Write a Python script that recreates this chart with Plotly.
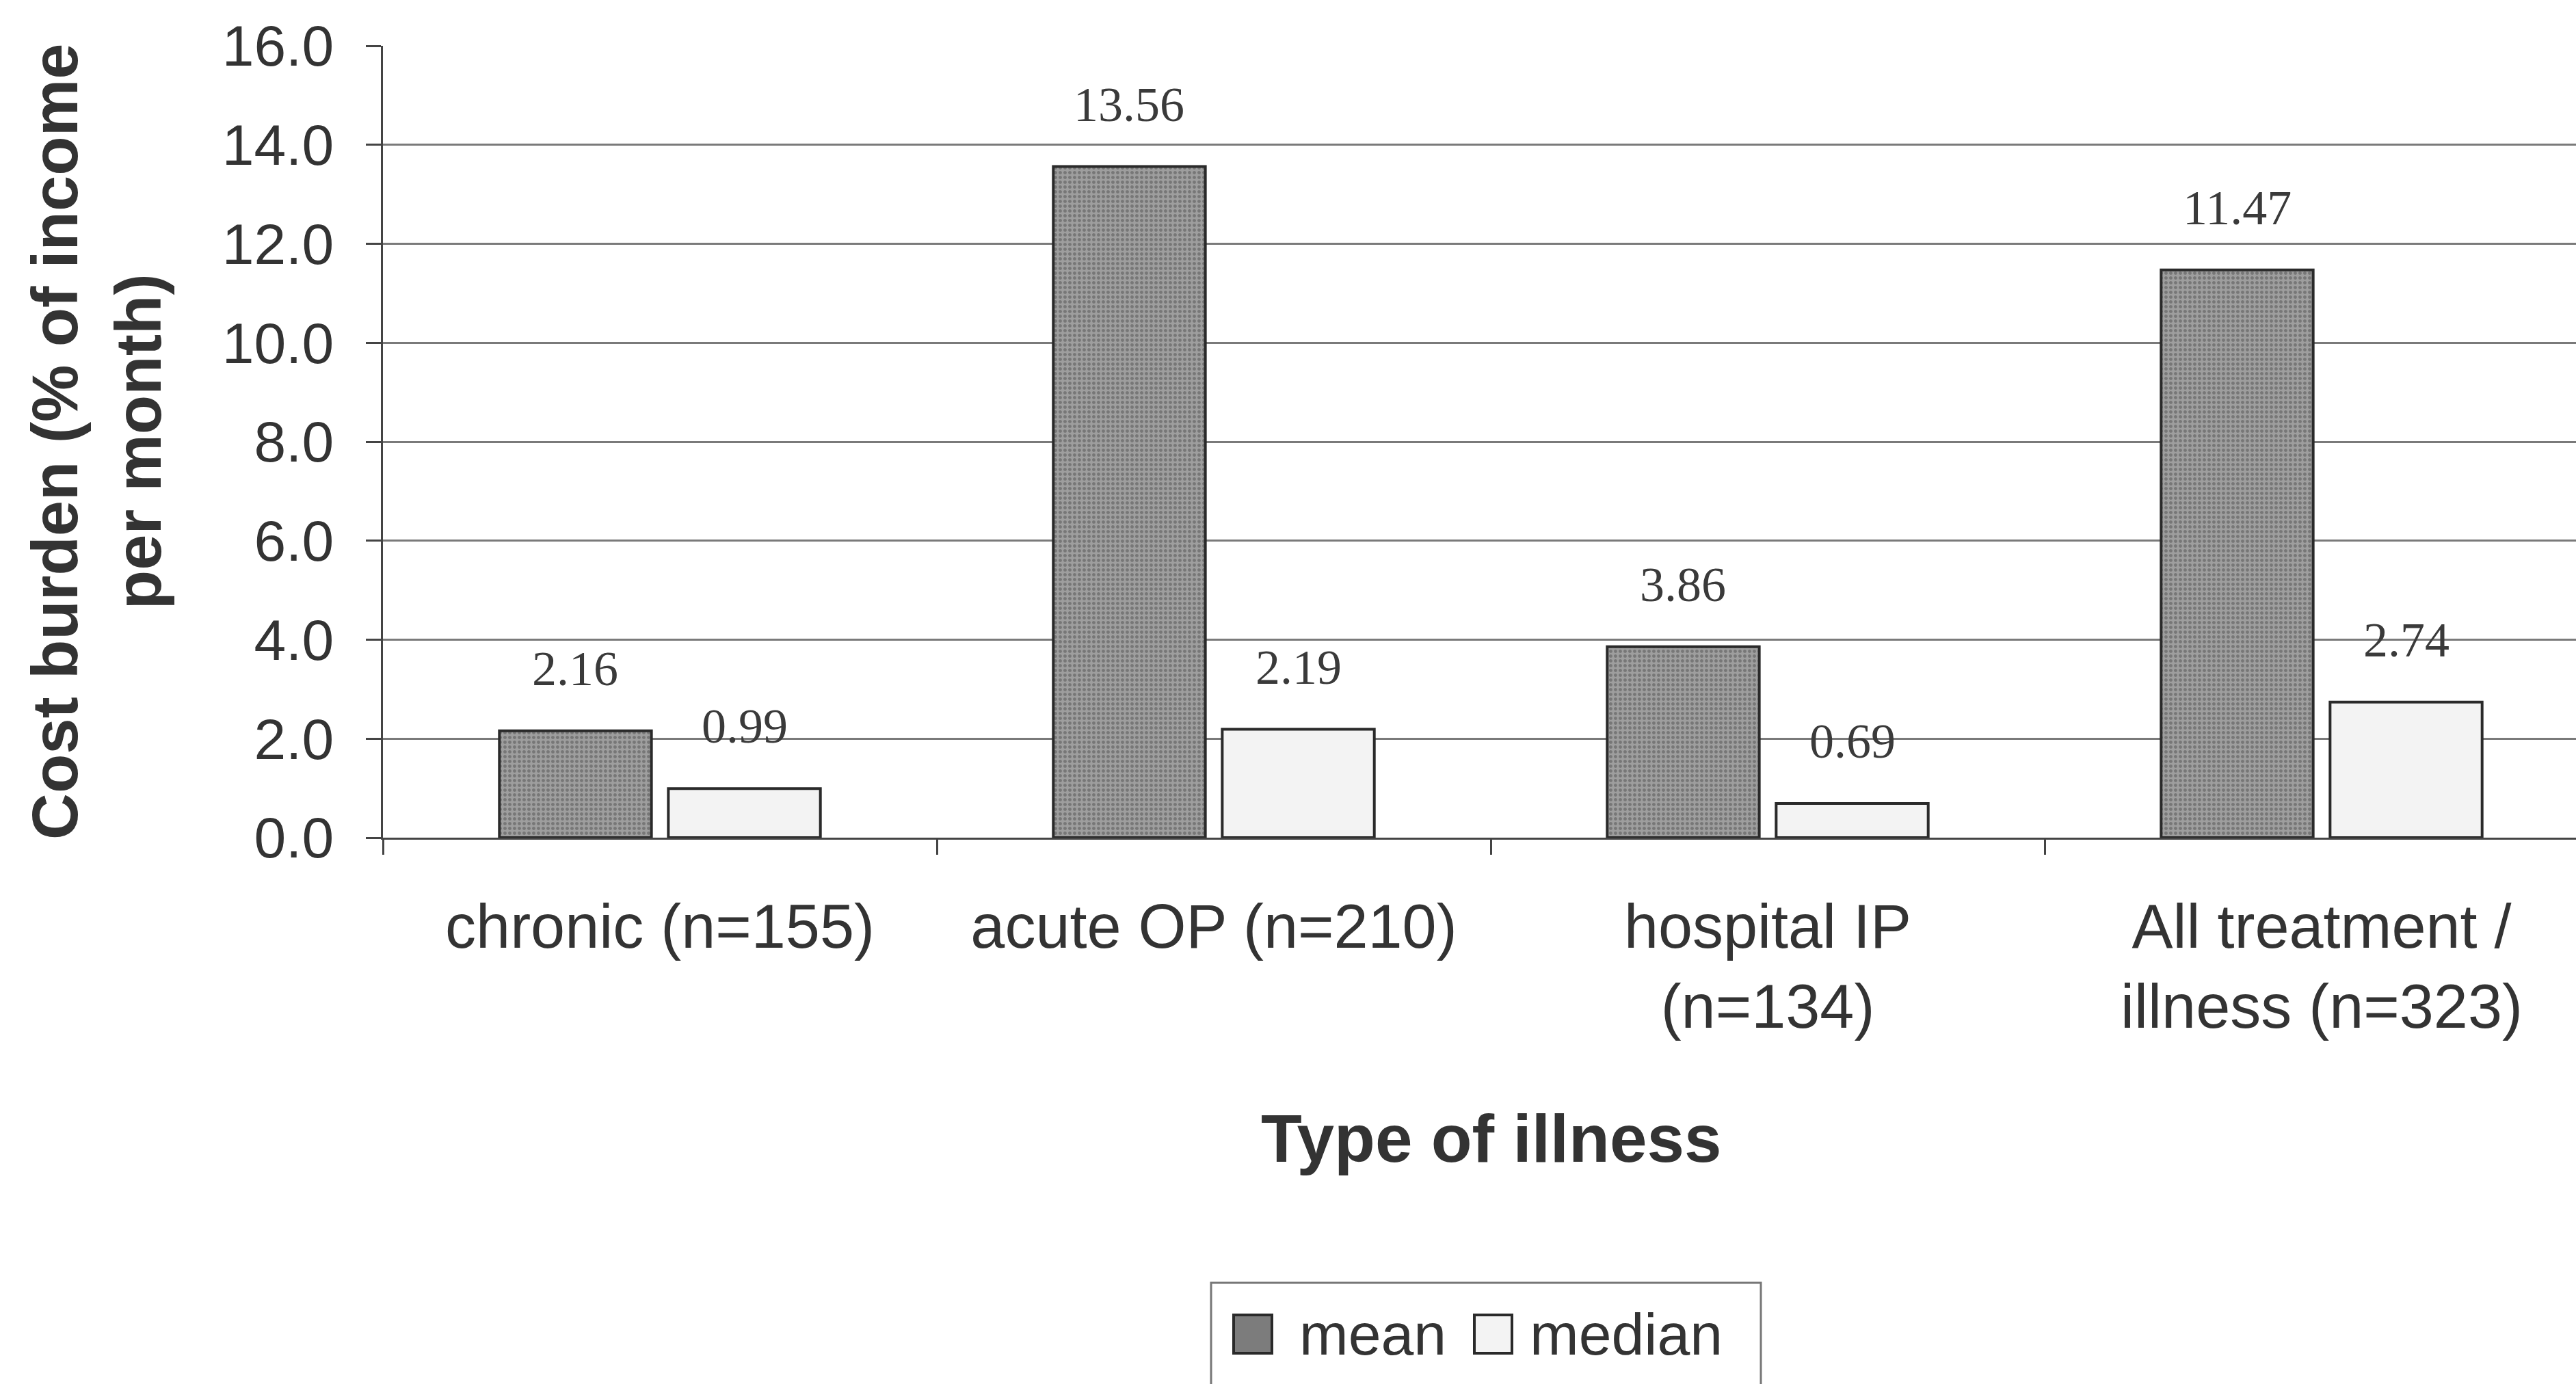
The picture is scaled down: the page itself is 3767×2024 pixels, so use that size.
import plotly.graph_objects as go

categories = ["chronic (n=155)", "acute OP (n=210)", "hospital IP<br>(n=134)", "All treatment /<br>illness (n=323)"]
mean_vals = [2.16, 13.56, 3.86, 11.47]
median_vals = [0.99, 2.19, 0.69, 2.74]
y_ticks = [0, 2, 4, 6, 8, 10, 12, 14, 16]
series_names = ["mean", "median"]

W, H = 3767, 2024
L, R, T, B = 560, 0, 67, 799
PW, PH = W - L - R, H - T - B

MEAN_FILL = dict(color="#949494", line=dict(color="#2a2a2a", width=4),
                 pattern=dict(shape=".", fgcolor="#505050", bgcolor="#9e9e9e", size=7, solidity=0.4))
MEDIAN_FILL = dict(color="#f3f3f3", line=dict(color="#2a2a2a", width=4))


def px_x(p):
    return (p - L) / PW


def px_y(p):
    return (H - B - p) / PH


fig = go.Figure()
fig.add_trace(go.Bar(name=series_names[0], x=categories, y=mean_vals, marker=MEAN_FILL))
fig.add_trace(go.Bar(name=series_names[1], x=categories, y=median_vals, marker=MEDIAN_FILL))

label_font = dict(family="Liberation Serif", size=72, color="#3a3a3a")
for c, m, md in zip(categories, mean_vals, median_vals):
    fig.add_annotation(x=c, y=m, text=f"{m:.2f}", showarrow=False, xshift=-124, yshift=91,
                       yanchor="middle", font=label_font)
    fig.add_annotation(x=c, y=md, text=f"{md:.2f}", showarrow=False, xshift=124, yshift=91,
                       yanchor="middle", font=label_font)

# axis titles
fig.add_annotation(xref="paper", yref="paper", x=0, y=0.5, xshift=141 - L,
                   text="Cost burden (% of income<br>per month)", textangle=-90,
                   showarrow=False, xanchor="center", yanchor="middle",
                   font=dict(family="Liberation Sans", size=94, color="#333333", weight="bold"))
fig.add_annotation(xref="x", yref="paper", x=1.5, y=px_y(1665), text="Type of illness",
                   showarrow=False, xanchor="center", yanchor="middle",
                   font=dict(family="Liberation Sans", size=98, color="#333333", weight="bold"))

# legend box (drawn manually so the swatches match the original size)
fig.add_shape(type="rect", xref="paper", yref="paper",
              x0=px_x(1771), x1=px_x(2575), y0=px_y(1876), y1=px_y(2060),
              line=dict(color="#777777", width=3), fillcolor="white", layer="below")
sw = [(1804, 1860), (2156, 2211)]
tx = [1898, 2235]
yc = 1951
for (a, b), t, name, fill in zip(sw, tx, series_names, [MEAN_FILL, MEDIAN_FILL]):
    fig.add_shape(type="rect", xref="paper", yref="paper",
                  x0=px_x(a), x1=px_x(b), y0=px_y(yc - 28), y1=px_y(yc + 28),
                  line=dict(color="#2a2a2a", width=4),
                  fillcolor="#7c7c7c" if name == "mean" else "#f3f3f3")
    fig.add_annotation(xref="paper", yref="paper", x=px_x(t), y=px_y(yc), text=name,
                       showarrow=False, xanchor="left", yanchor="middle",
                       font=dict(family="Liberation Sans", size=86, color="#333333"))

fig.update_layout(
    width=W, height=H,
    margin=dict(l=L, r=R, t=T, b=B, pad=0),
    paper_bgcolor="white", plot_bgcolor="white",
    barmode="group", bargap=0.39, bargroupgap=0.1,
    font=dict(family="Liberation Sans", color="#333333"),
    showlegend=False,
)
fig.update_xaxes(
    range=[-0.5, -0.5 + PW / 810.0],
    showline=True, linecolor="#444444", linewidth=3,
    ticks="outside", tickson="boundaries", ticklen=22, tickwidth=3, tickcolor="#444444",
    tickfont=dict(size=90, color="#333333"), ticklabelstandoff=50,
    showgrid=False,
)
fig.update_yaxes(
    range=[0, 16], tickvals=y_ticks, tickformat=".1f",
    showline=True, linecolor="#444444", linewidth=3,
    ticks="outside", ticklen=22, tickwidth=3, tickcolor="#444444",
    tickfont=dict(size=84, color="#333333"), ticklabelstandoff=30,
    showgrid=True, gridcolor="#7a7a7a", gridwidth=3, zeroline=False,
)

fig.write_html("out.html")
